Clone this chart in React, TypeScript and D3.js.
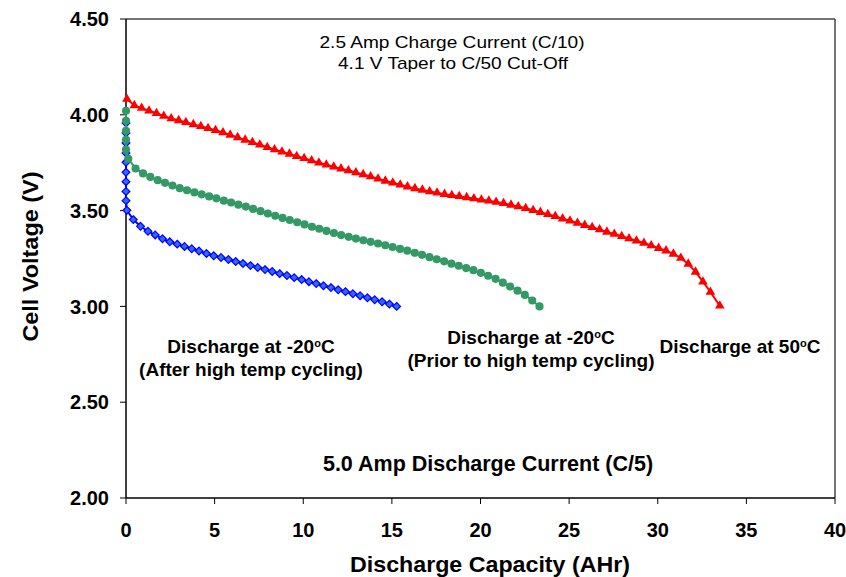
import React from "react";
import * as d3 from "d3";

const W = 846;
const H = 577;

// Discharge at 50°C (red triangles)
const red50X = [0.05,0.47,0.88,1.30,1.72,2.13,2.55,2.97,3.38,3.80,4.22,4.63,5.05,5.47,5.88,6.30,6.72,7.13,7.55,7.97,8.38,8.80,9.22,9.63,10.05,10.47,10.88,11.30,11.72,12.13,12.55,12.97,13.38,13.80,14.22,14.63,15.05,15.47,15.88,16.30,16.72,17.13,17.55,17.97,18.38,18.80,19.22,19.63,20.05,20.47,20.88,21.30,21.72,22.13,22.55,22.97,23.38,23.80,24.22,24.63,25.05,25.47,25.88,26.30,26.72,27.13,27.55,27.97,28.38,28.80,29.22,29.63,30.05,30.47,30.88,31.30,31.72,32.13,32.55,32.97,33.50];
const red50V = [4.082,4.049,4.035,4.021,4.008,3.994,3.981,3.971,3.961,3.950,3.940,3.930,3.919,3.908,3.895,3.882,3.869,3.857,3.844,3.831,3.819,3.807,3.796,3.784,3.773,3.761,3.750,3.739,3.729,3.719,3.709,3.699,3.689,3.678,3.666,3.655,3.645,3.635,3.625,3.616,3.608,3.600,3.593,3.586,3.580,3.575,3.569,3.563,3.557,3.551,3.545,3.538,3.530,3.521,3.512,3.502,3.492,3.481,3.470,3.458,3.447,3.435,3.424,3.413,3.401,3.389,3.378,3.366,3.354,3.343,3.331,3.318,3.304,3.291,3.274,3.253,3.222,3.180,3.129,3.075,3.003];

// Discharge at -20°C, prior to high temp cycling (green circles)
const greenX = [0,0,0,0,0,0.13,0.54,0.96,1.37,1.79,2.20,2.62,3.03,3.44,3.86,4.27,4.69,5.10,5.52,5.93,6.34,6.76,7.17,7.59,8.00,8.42,8.83,9.24,9.66,10.07,10.49,10.90,11.31,11.73,12.14,12.56,12.97,13.39,13.80,14.22,14.63,15.04,15.46,15.87,16.29,16.70,17.12,17.53,17.95,18.36,18.77,19.19,19.60,20.02,20.43,20.85,21.26,21.67,22.09,22.50,22.92,23.33];
const greenV = [4.021,3.969,3.917,3.870,3.818,3.770,3.720,3.694,3.676,3.659,3.645,3.631,3.617,3.606,3.595,3.585,3.574,3.564,3.552,3.542,3.531,3.521,3.509,3.497,3.485,3.473,3.462,3.451,3.439,3.428,3.416,3.405,3.394,3.383,3.372,3.363,3.354,3.345,3.337,3.328,3.319,3.310,3.300,3.291,3.280,3.269,3.257,3.246,3.235,3.223,3.212,3.200,3.189,3.175,3.160,3.144,3.124,3.104,3.082,3.060,3.031,3.000];

// Discharge at -20°C, after high temp cycling (blue diamonds)
const blueX = [0,0,0,0,0,0,0,0,0,0.05,0.41,0.82,1.24,1.65,2.06,2.47,2.89,3.30,3.71,4.12,4.54,4.95,5.36,5.78,6.19,6.60,7.02,7.43,7.84,8.25,8.67,9.08,9.49,9.91,10.32,10.73,11.14,11.56,11.97,12.38,12.80,13.21,13.62,14.03,14.45,14.86,15.27];
const blueV = [3.957,3.905,3.853,3.800,3.752,3.700,3.651,3.600,3.552,3.502,3.453,3.418,3.392,3.373,3.353,3.337,3.325,3.313,3.301,3.289,3.276,3.264,3.255,3.245,3.234,3.224,3.213,3.203,3.192,3.182,3.171,3.161,3.150,3.140,3.129,3.119,3.108,3.098,3.087,3.077,3.066,3.056,3.045,3.035,3.024,3.012,3.000];

const xTicks = [0, 5, 10, 15, 20, 25, 30, 35, 40];
const yTicks = [2.0, 2.5, 3.0, 3.5, 4.0, 4.5];

const FONT = "Arial, 'Liberation Sans', Helvetica, sans-serif";

const x = d3.scaleLinear().domain([0, 40]).range([126, 835]);
const y = d3.scaleLinear().domain([2.0, 4.5]).range([498, 19]);

type Pt = [number, number];
const zip = (xs: number[], vs: number[]): Pt[] => xs.map((v, i) => [v, vs[i]]);

const line = d3
  .line<Pt>()
  .x((d) => x(d[0]))
  .y((d) => y(d[1]));

const triPath = d3.symbol(d3.symbolTriangle, 40)()!;
const circPath = d3.symbol(d3.symbolCircle, 52)()!;
const diaPath = d3.symbol(d3.symbolDiamond2, 38)()!;

const series = [
  { data: zip(blueX, blueV), stroke: "#0000ff", fill: "#3366ff", mstroke: "#0000ff", path: diaPath, sw: 1.2 },
  { data: zip(greenX, greenV), stroke: "#339966", fill: "#339966", mstroke: "none", path: circPath, sw: 0 },
  { data: zip(red50X, red50V), stroke: "#ff0000", fill: "#ff0000", mstroke: "none", path: triPath, sw: 0 },
];

function Sup({ children }: { children: React.ReactNode }) {
  return (
    <tspan baselineShift="super" fontSize="11">
      {children}
    </tspan>
  );
}

export default function App() {
  return (
    <svg
      width={W}
      height={H}
      style={{ position: "absolute", left: 0, top: 0, background: "#fff" }}
      fontFamily={FONT}
    >
      <rect x={0} y={0} width={W} height={H} fill="#fff" />
      {/* frame */}
      <line x1={x(0)} x2={x(40)} y1={y(4.5)} y2={y(4.5)} stroke="#444" strokeWidth={1.5} />
      <line x1={x(40)} x2={x(40)} y1={y(4.5)} y2={y(2.0)} stroke="#444" strokeWidth={1.5} />
      <line x1={x(0)} x2={x(0)} y1={y(4.5)} y2={y(2.0)} stroke="#000" strokeWidth={1.5} />
      <line x1={x(0)} x2={x(40)} y1={y(2.0)} y2={y(2.0)} stroke="#000" strokeWidth={1.5} />

      {/* y ticks */}
      {yTicks.map((t) => (
        <g key={"y" + t}>
          <line x1={x(0) - 6} x2={x(0)} y1={y(t)} y2={y(t)} stroke="#000" strokeWidth={1} />
          <text
            x={109}
            y={y(t)}
            dy="0.36em"
            textAnchor="end"
            fontSize={20}
            fontWeight="bold"
          >
            {t.toFixed(2)}
          </text>
        </g>
      ))}
      {/* x ticks */}
      {xTicks.map((t) => (
        <g key={"x" + t}>
          <line x1={x(t)} x2={x(t)} y1={y(2.0)} y2={y(2.0) + 6} stroke="#000" strokeWidth={1} />
          <text x={x(t)} y={537} textAnchor="middle" fontSize={20} fontWeight="bold">
            {t}
          </text>
        </g>
      ))}

      {/* axis titles */}
      <text x={490} y={572} textAnchor="middle" fontSize={22} fontWeight="bold" textLength={280} lengthAdjust="spacingAndGlyphs">
        Discharge Capacity (AHr)
      </text>
      <text
        transform={`translate(38,${y(3.26)}) rotate(-90)`}
        textAnchor="middle"
        fontSize={22}
        fontWeight="bold"
        textLength={170}
        lengthAdjust="spacingAndGlyphs"
      >
        Cell Voltage (V)
      </text>

      {/* series */}
      {series.map((s, i) => (
        <g key={i}>
          <path d={line(s.data)!} fill="none" stroke={s.stroke} strokeWidth={2} />
          {s.data.map((d, j) => (
            <path
              key={j}
              d={s.path}
              transform={`translate(${x(d[0])},${y(d[1])})`}
              fill={s.fill}
              stroke={s.mstroke}
              strokeWidth={s.sw}
            />
          ))}
        </g>
      ))}

      {/* annotations */}
      <text x={452} y={48} textAnchor="middle" fontSize={17} textLength={265} lengthAdjust="spacingAndGlyphs">
        2.5 Amp Charge Current (C/10)
      </text>
      <text x={453} y={69} textAnchor="middle" fontSize={17} textLength={230} lengthAdjust="spacingAndGlyphs">
        4.1 V Taper to C/50 Cut-Off
      </text>
      <text x={488} y={471} textAnchor="middle" fontSize={21.5} fontWeight="bold">
        5.0 Amp Discharge Current (C/5)
      </text>

      <g fontSize={19} fontWeight="bold" textAnchor="middle">
        <text x={251} y={353}>
          Discharge at -20<Sup>o</Sup>
          <tspan baselineShift="0">C</tspan>
        </text>
        <text x={251} y={376}>(After high temp cycling)</text>
        <text x={531} y={344}>
          Discharge at -20<Sup>o</Sup>
          <tspan baselineShift="0">C</tspan>
        </text>
        <text x={531} y={367}>(Prior to high temp cycling)</text>
        <text x={740} y={353}>
          Discharge at 50<Sup>o</Sup>
          <tspan baselineShift="0">C</tspan>
        </text>
      </g>
    </svg>
  );
}
